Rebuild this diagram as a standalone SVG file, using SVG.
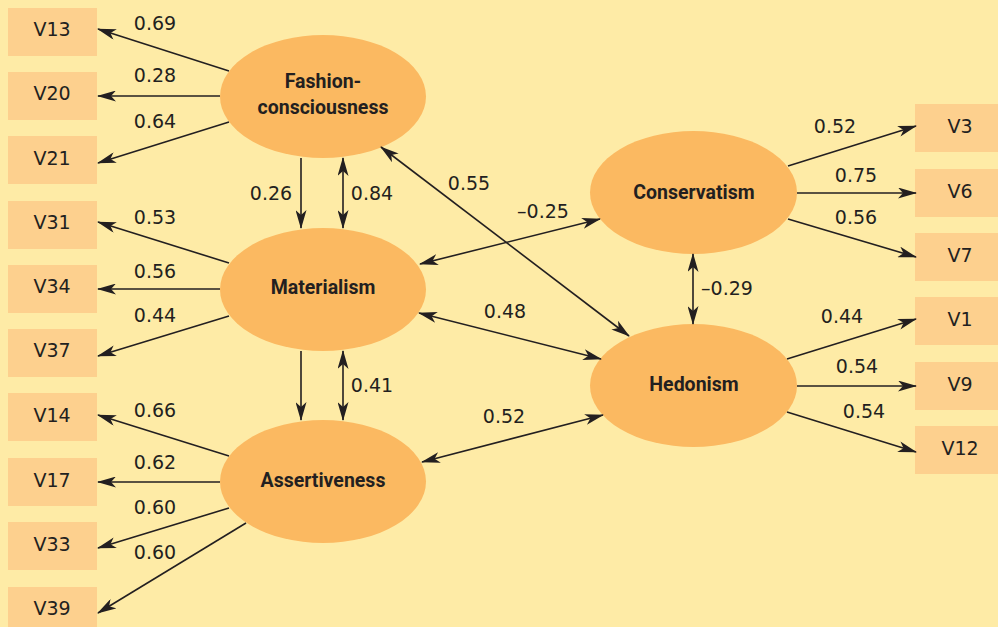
<svg xmlns="http://www.w3.org/2000/svg" width="998" height="627" viewBox="0 0 998 627">
<style>
.box{fill:#FDD08E}
.lat{fill:#FBB961}
.bt{font-family:"DejaVu Sans",sans-serif;font-size:19px;fill:#231F20;text-anchor:middle}
.lt{font-family:Roboto,"DejaVu Sans",sans-serif;font-weight:bold;font-size:19.5px;fill:#231F20;text-anchor:middle}
.num{font-family:"DejaVu Sans",sans-serif;font-size:19px;fill:#231F20;text-anchor:middle}
.c line{stroke:#231F20;stroke-width:1.6;fill:none}
.s{marker-end:url(#ah)}
.d{marker-start:url(#ah);marker-end:url(#ah)}
</style>
<defs>
<marker id="ah" viewBox="0 0 19 11" refX="18" refY="5.5" markerWidth="19" markerHeight="11" markerUnits="userSpaceOnUse" orient="auto-start-reverse">
<path d="M0,0 L19,5.5 L0,11 L5,5.5 Z" fill="#231F20"/>
</marker>
</defs>
<rect width="998" height="627" fill="#FEEBA6"/>

<g id="V13"><rect class="box" x="8" y="8" width="89" height="48"/><text class="bt" x="52" y="36">V13</text></g>
<g id="V20"><rect class="box" x="8" y="72" width="89" height="48"/><text class="bt" x="52" y="100">V20</text></g>
<g id="V21"><rect class="box" x="8" y="136" width="89" height="48"/><text class="bt" x="52" y="165">V21</text></g>
<g id="V31"><rect class="box" x="8" y="201" width="89" height="48"/><text class="bt" x="52" y="229">V31</text></g>
<g id="V34"><rect class="box" x="8" y="265" width="89" height="48"/><text class="bt" x="52" y="293">V34</text></g>
<g id="V37"><rect class="box" x="8" y="329" width="89" height="48"/><text class="bt" x="52" y="357">V37</text></g>
<g id="V14"><rect class="box" x="8" y="393" width="89" height="48"/><text class="bt" x="52" y="422">V14</text></g>
<g id="V17"><rect class="box" x="8" y="458" width="89" height="48"/><text class="bt" x="52" y="487">V17</text></g>
<g id="V33"><rect class="box" x="8" y="522" width="89" height="48"/><text class="bt" x="52" y="551">V33</text></g>
<g id="V39"><rect class="box" x="8" y="587" width="89" height="48"/><text class="bt" x="52" y="615">V39</text></g>

<g id="V3"><rect class="box" x="915" y="104" width="90" height="48"/><text class="bt" x="960" y="133">V3</text></g>
<g id="V6"><rect class="box" x="915" y="169" width="90" height="48"/><text class="bt" x="960" y="198">V6</text></g>
<g id="V7"><rect class="box" x="915" y="233" width="90" height="48"/><text class="bt" x="960" y="262">V7</text></g>
<g id="V1"><rect class="box" x="915" y="297" width="90" height="48"/><text class="bt" x="960" y="326">V1</text></g>
<g id="V9"><rect class="box" x="915" y="362" width="90" height="48"/><text class="bt" x="960" y="391">V9</text></g>
<g id="V12"><rect class="box" x="915" y="426" width="90" height="48"/><text class="bt" x="960" y="455">V12</text></g>

<g id="fashion"><ellipse class="lat" cx="323" cy="96.5" rx="103" ry="61.5"/><text class="lt" x="323" y="88">Fashion-</text><text class="lt" x="323" y="114">consciousness</text></g>
<g id="materialism"><ellipse class="lat" cx="323" cy="289.5" rx="103" ry="61.5"/><text class="lt" x="323" y="294">Materialism</text></g>
<g id="assertiveness"><ellipse class="lat" cx="323" cy="481.5" rx="103" ry="61.5"/><text class="lt" x="323" y="487">Assertiveness</text></g>
<g id="conservatism"><ellipse class="lat" cx="693.5" cy="192.5" rx="103.5" ry="61.5"/><text class="lt" x="694" y="199">Conservatism</text></g>
<g id="hedonism"><ellipse class="lat" cx="693.5" cy="385.5" rx="103.5" ry="61.5"/><text class="lt" x="694" y="391">Hedonism</text></g>

<g id="connectors" class="c">
<line class="s" x1="229" y1="71" x2="98" y2="29"/>
<line class="s" x1="220" y1="96" x2="98" y2="96"/>
<line class="s" x1="229" y1="122" x2="98" y2="163"/>
<line class="s" x1="229" y1="263" x2="98" y2="222"/>
<line class="s" x1="220" y1="289" x2="98" y2="289"/>
<line class="s" x1="229" y1="316" x2="98" y2="356"/>
<line class="s" x1="229" y1="456" x2="98" y2="415"/>
<line class="s" x1="220" y1="482" x2="98" y2="482"/>
<line class="s" x1="229" y1="508" x2="98" y2="548"/>
<line class="s" x1="246" y1="523" x2="98" y2="613"/>
<line class="s" x1="788" y1="166" x2="916" y2="126"/>
<line class="s" x1="797" y1="193" x2="916" y2="193"/>
<line class="s" x1="788" y1="219" x2="916" y2="257"/>
<line class="s" x1="787" y1="359" x2="916" y2="319"/>
<line class="s" x1="797" y1="386" x2="916" y2="386"/>
<line class="s" x1="787" y1="412" x2="916" y2="452"/>
<line class="s" x1="301" y1="158" x2="301" y2="228"/>
<line class="d" x1="343" y1="158" x2="343" y2="228"/>
<line class="s" x1="301" y1="351" x2="301" y2="420"/>
<line class="d" x1="343" y1="351" x2="343" y2="420"/>
<line class="d" x1="693" y1="254" x2="693" y2="324"/>
<line class="d" x1="381" y1="147" x2="629" y2="336"/>
<line class="d" x1="420" y1="264" x2="600" y2="219"/>
<line class="d" x1="419" y1="313" x2="601" y2="359"/>
<line class="d" x1="422" y1="462" x2="603" y2="415"/>
</g>

<g id="labels">
<text class="num" x="155" y="30">0.69</text>
<text class="num" x="155" y="82">0.28</text>
<text class="num" x="155" y="128">0.64</text>
<text class="num" x="155" y="224">0.53</text>
<text class="num" x="155" y="278">0.56</text>
<text class="num" x="155" y="322">0.44</text>
<text class="num" x="155" y="417">0.66</text>
<text class="num" x="155" y="469">0.62</text>
<text class="num" x="155" y="514">0.60</text>
<text class="num" x="155" y="559">0.60</text>
<text class="num" x="271" y="200">0.26</text>
<text class="num" x="372" y="200">0.84</text>
<text class="num" x="372" y="392">0.41</text>
<text class="num" x="469" y="190">0.55</text>
<text class="num" x="543" y="218">–0.25</text>
<text class="num" x="505" y="318">0.48</text>
<text class="num" x="504" y="423">0.52</text>
<text class="num" x="727" y="295">–0.29</text>
<text class="num" x="835" y="133">0.52</text>
<text class="num" x="856" y="182">0.75</text>
<text class="num" x="856" y="224">0.56</text>
<text class="num" x="842" y="323">0.44</text>
<text class="num" x="857" y="373">0.54</text>
<text class="num" x="864" y="418">0.54</text>
</g>
</svg>
